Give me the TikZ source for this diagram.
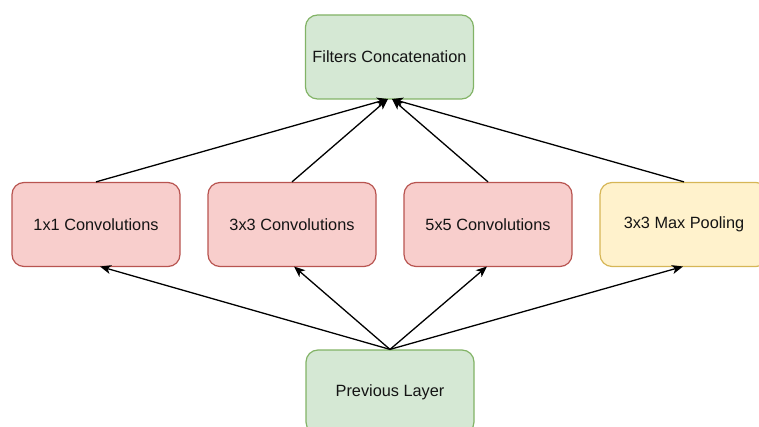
\documentclass[tikz,border=0pt]{standalone}
\usepackage{fontspec}
\setmainfont{Liberation Sans}
\usetikzlibrary{arrows.meta}
\definecolor{gfill}{HTML}{D5E8D4}
\definecolor{gdraw}{HTML}{82B366}
\definecolor{rfill}{HTML}{F8CECC}
\definecolor{rdraw}{HTML}{B85450}
\definecolor{yfill}{HTML}{FFF2CC}
\definecolor{ydraw}{HTML}{D6B656}
\definecolor{txt}{HTML}{141414}
\tikzset{
  box/.style={rounded corners=12pt, line width=1.2pt, minimum width=168pt, minimum height=84pt,
    inner sep=0pt, font=\fontsize{16.3}{19}\selectfont, text=txt},
  gbox/.style={box, fill=gfill, draw=gdraw},
  rbox/.style={box, fill=rfill, draw=rdraw},
  ybox/.style={box, fill=yfill, draw=ydraw},
  conn/.style={line width=1.3pt, -{Stealth[length=11pt, width=9pt, inset=3pt]}},
}
\begin{document}
\begin{tikzpicture}[x=1pt, y=-1pt]
\useasboundingbox (0,0) rectangle (759,427);
\begin{scope}
\clip (0,0) rectangle (759,427);
\node[gbox] (fc) at (389.5,57) {Filters Concatenation};
\node[rbox] (c1) at (96,224.5) {1x1 Convolutions};
\node[rbox] (c3) at (292,224.5) {3x3 Convolutions};
\node[rbox] (c5) at (488,224.5) {5x5 Convolutions};
\node[ybox] (mp) at (684,224.5) {3x3 Max Pooling};
\node[gbox] (pl) at (390,392) {Previous Layer};
\coordinate (fcl) at (388,99);
\coordinate (fcr) at (392,99);
\coordinate (c1b) at (100,266.5);
\coordinate (c3b) at (294,266.5);
\coordinate (c5b) at (487,266.5);
\coordinate (mpb) at (683,266.5);
\draw[conn] (c1.north) -- (fcl);
\draw[conn] (c3.north) -- (fcl);
\draw[conn] (c5.north) -- (fcr);
\draw[conn] (mp.north) -- (fcr);
\draw[conn] (pl.north) -- (c1b);
\draw[conn] (pl.north) -- (c3b);
\draw[conn] (pl.north) -- (c5b);
\draw[conn] (pl.north) -- (mpb);
\end{scope}
\end{tikzpicture}
\end{document}
